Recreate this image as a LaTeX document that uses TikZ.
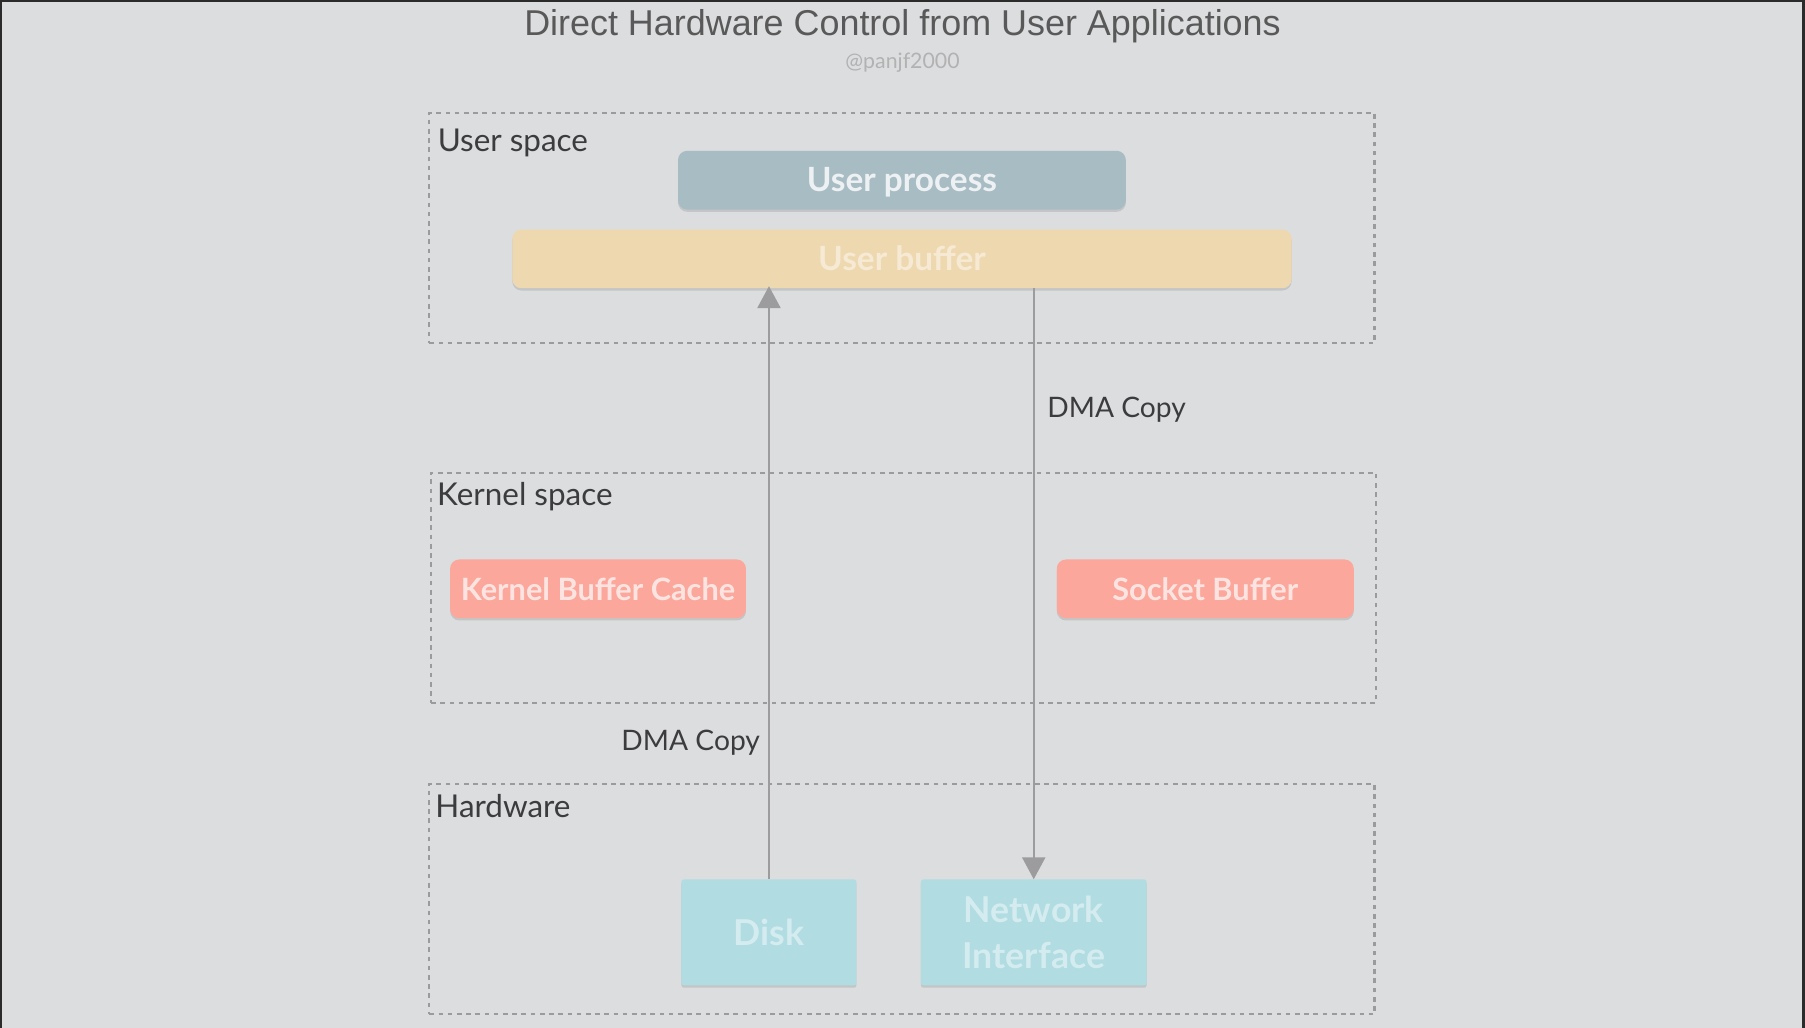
\documentclass[tikz,border=0pt]{standalone}
\usepackage{fontspec}
\setmainfont{Lato}
\newfontfamily\titlefont{Liberation Sans}
\usetikzlibrary{arrows.meta,shadows,positioning}
\definecolor{bg}{HTML}{DCDDDF}
\definecolor{frame}{HTML}{2B2B2B}
\definecolor{dashgray}{HTML}{9A9B9D}
\definecolor{arrowgray}{HTML}{9C9C9E}
\definecolor{lblgray}{HTML}{3C3C3E}
\definecolor{procblue}{HTML}{A8BCC4}
\definecolor{bufsand}{HTML}{EED8B0}
\definecolor{salmon}{HTML}{FCA79C}
\definecolor{hwcyan}{HTML}{B0DCE2}

\begin{document}
\begin{tikzpicture}[x=1pt,y=-1pt,
  region/.style={draw=dashgray, line width=1.8pt, dash pattern=on 4pt off 4pt, minimum width=821, minimum height=200},
  lbl/.style={text=lblgray, font=\fontsize{27.3}{30}\selectfont, inner sep=0pt},
  dma/.style={lbl, font=\fontsize{24.5}{28}\selectfont},
  blk/.style={rounded corners=8pt, minimum height=51, font=\bfseries\fontsize{26.7}{30}\selectfont,
    drop shadow={shadow xshift=0pt, shadow yshift=-2pt, opacity=.25}},
  ublk/.style={blk, font=\bfseries\fontsize{29}{32}\selectfont, text depth=2pt},
  hw/.style={blk, rounded corners=2pt, minimum height=92, align=center, text=hwcyan!55!white,
    font=\bfseries\fontsize{31}{40}\selectfont},
  flow/.style={draw=arrowgray, line width=1.7pt, -{Triangle[length=19pt,width=20pt]}}]
\useasboundingbox (0,0) rectangle (1568,893);
\fill[frame] (0,0) rectangle (1568,893);
\fill[bg] (2,2) rectangle (1565,893);

% title
\node[font=\titlefont\fontsize{31.2}{34}\selectfont, text=black!65] (title) at (784,23) {Direct Hardware Control from User Applications};
\node[font=\fontsize{18.5}{20}\selectfont, text=black!30, below=1pt of title] (credit) {@panjf2000};

% regions
\node[region] (user) at (783.5,198) {};
\node[region] (kernel) at (785,510.5) {};
\node[region] (hard) at (783.5,781) {};
\node[lbl, anchor=west] (userlbl) at ([shift={(8,27)}]user.north west) {User space};
\node[lbl, anchor=west] (kernlbl) at ([shift={(6,22)}]kernel.north west) {Kernel space};
\node[lbl, anchor=west] (hardlbl) at ([shift={(6,20)}]hard.north west) {Hardware};

% blocks
\node[ublk, fill=procblue, text=white!80!procblue, minimum width=389] (uproc) at (783.5,156.5) {User process};
\node[ublk, fill=bufsand, text=white!45!bufsand, minimum width=677, below=17pt of uproc] (ubuf) {User buffer};
\node[blk, fill=salmon, text=white!70!salmon, minimum width=257] (kbc) at (519.5,511.5) {Kernel Buffer Cache};
\node[blk, fill=salmon, text=white!70!salmon, minimum width=258] (sbuf) at (1047,511.5) {Socket Buffer};
\node[hw, fill=hwcyan, minimum width=152] (disk) at (668,810) {Disk};
\node[hw, fill=hwcyan, minimum width=196] (nic) at (898,810) {Network\\Interface};

% dma copies
\draw[flow] (disk.north) -- node[dma, pos=.23, left=7pt] (dmain) {DMA Copy} ([yshift=2]disk.north |- ubuf.south);
\draw[flow] (nic.north |- ubuf.south) -- node[dma, pos=.205, right=11pt] (dmaout) {DMA Copy} (nic.north);
\end{tikzpicture}
\end{document}
